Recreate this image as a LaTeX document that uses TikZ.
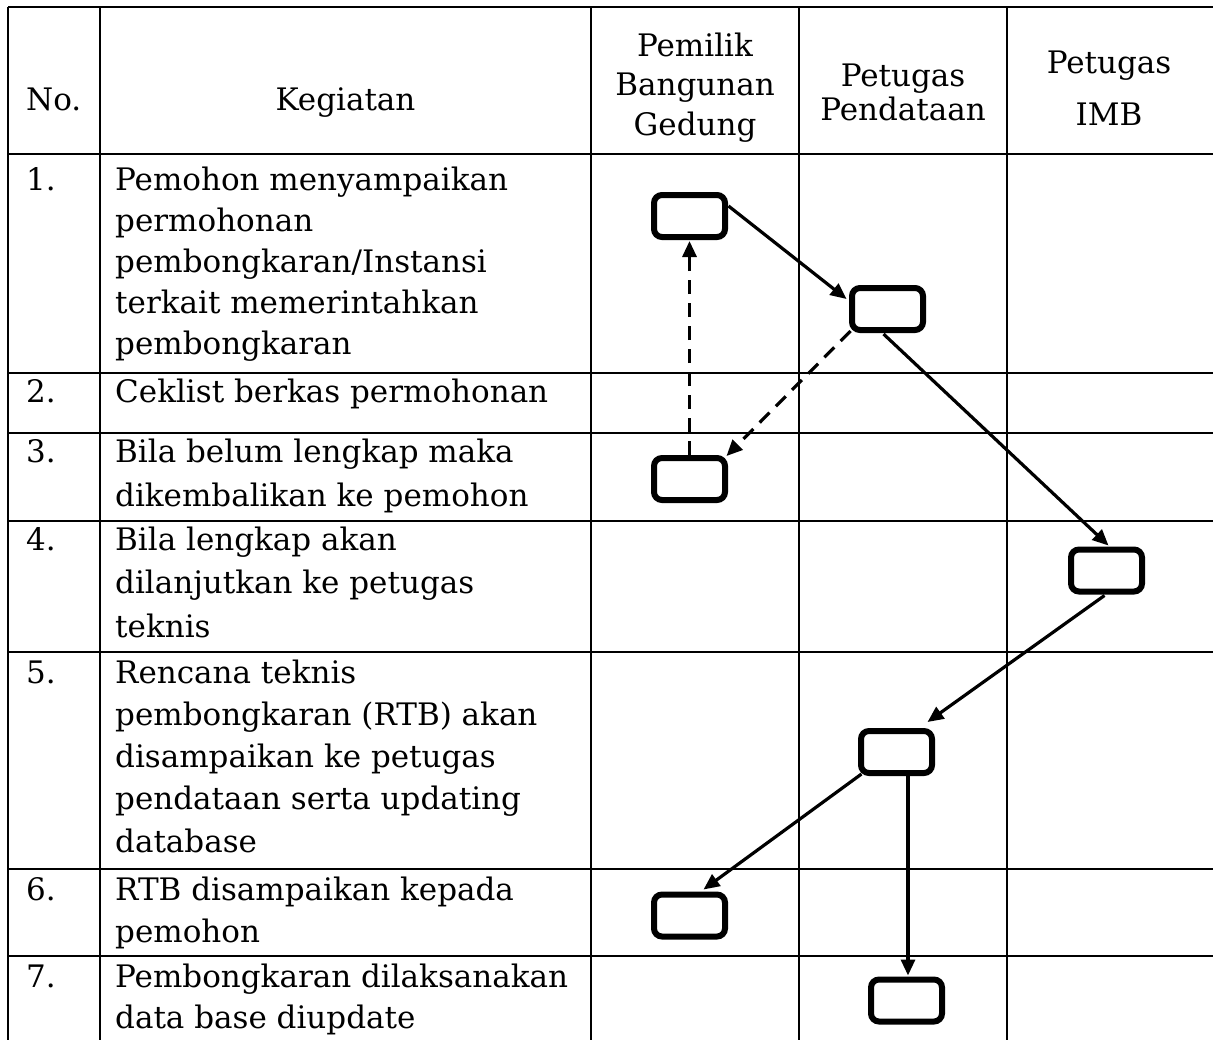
\documentclass[tikz,border=0pt]{standalone}
\usepackage{fontspec}
\setmainfont{DejaVu Serif}
\usetikzlibrary{arrows.meta,calc}
\newcommand{\lines}[2]{\vtop{\baselineskip=#1pt\lineskiplimit=-20pt #2}}
\begin{document}
\begin{tikzpicture}[x=1pt,y=-1pt,
  grid/.style={line width=1.7pt},
  box/.style={draw, line width=6pt, rounded corners=8pt, minimum width=71pt, minimum height=42pt, inner sep=0pt},
  conn/.style={line width=3.2pt, -{Triangle[length=16pt,width=14pt]}},
  dconn/.style={conn, dash pattern=on 14pt off 9pt},
  txt/.style={anchor=base west, inner sep=0pt, font=\fontsize{31pt}{42pt}\selectfont},
  hdr/.style={anchor=base, inner sep=0pt, font=\fontsize{31pt}{42pt}\selectfont}]
\useasboundingbox (0,0) rectangle (1213,1039);
\clip (0,0) rectangle (1213,1039);
\fill[white] (0,0) rectangle (1213,1039);
% grid
\foreach \yy in {7,154,373,433,521,652,869,956}
  \draw[grid] (8,\yy) -- (1220,\yy);
\foreach \xx in {8,100,591,799,1007}
  \draw[grid] (\xx,7) -- (\xx,1045);
% header
\node[txt] (hno) at (26,110) {No.};
\node[hdr] (hkeg) at (345.5,110) {Kegiatan};
\node[hdr] (hp1) at (695,56) {Pemilik};
\node[hdr] (hp2) at (695,95) {Bangunan};
\node[hdr] (hp3) at (695,135) {Gedung};
\node[hdr] (hd1) at (903,86) {Petugas};
\node[hdr] (hd2) at (903,120) {Pendataan};
\node[hdr] (hi1) at (1109,73) {Petugas};
\node[hdr] (hi2) at (1109,125) {IMB};
% rows
\node[txt] (n1) at (26,190) {1.};
\node[txt] (k1) at (115,190) {\lines{41}{\hbox{Pemohon menyampaikan}\hbox{permohonan}\hbox{pembongkaran/Instansi}\hbox{terkait memerintahkan}\hbox{pembongkaran}}};
\node[txt] (n2) at (26,402) {2.};
\node[txt] (k2) at (115,402) {Ceklist berkas permohonan};
\node[txt] (n3) at (26,462) {3.};
\node[txt] (k3) at (115,462) {\lines{44}{\hbox{Bila belum lengkap maka}\hbox{dikembalikan ke pemohon}}};
\node[txt] (n4) at (26,550) {4.};
\node[txt] (k4) at (115,550) {\lines{43.5}{\hbox{Bila lengkap akan}\hbox{dilanjutkan ke petugas}\hbox{teknis}}};
\node[txt] (n5) at (26,683) {5.};
\node[txt] (k5) at (115,683) {\lines{42.3}{\hbox{Rencana teknis}\hbox{pembongkaran (RTB) akan}\hbox{disampaikan ke petugas}\hbox{pendataan serta updating}\hbox{database}}};
\node[txt] (n6) at (26,900) {6.};
\node[txt] (k6) at (115,900) {\lines{42}{\hbox{RTB disampaikan kepada}\hbox{pemohon}}};
\node[txt] (n7) at (26,987) {7.};
\node[txt] (k7) at (115,987) {\lines{41}{\hbox{Pembongkaran dilaksanakan}\hbox{data base diupdate}}};
% boxes
\node[box] (b1) at (689.5,216) {};
\node[box] (b2) at (887.5,309) {};
\node[box] (b3) at (689.5,479) {};
\node[box] (b4) at (1106.5,570.5) {};
\node[box] (b5) at (896.5,752) {};
\node[box] (b6) at (689.5,915.5) {};
\node[box] (b7) at (906.5,1000.5) {};
% connectors
\draw[conn] ($(b1)+(39,-10)$) -- ($(b2)+(-41,-10)$);
\draw[dconn] ($(b2)+(-37,22)$) -- ($(b3)+(37,-23)$);
\draw[dconn] ($(b3)+(0,-24)$) -- ($(b1)+(0,25)$);
\draw[conn] ($(b2)+(-4,25)$) -- ($(b4)+(2,-25)$);
\draw[conn] ($(b4)+(-2,25)$) -- ($(b5)+(31,-30)$);
\draw[conn] ($(b5)+(-35,22)$) -- ($(b6)+(14,-26)$);
\draw[conn] ($(b5)+(11.5,24)$) -- ($(b7)+(1.5,-25)$);
\end{tikzpicture}
\end{document}
